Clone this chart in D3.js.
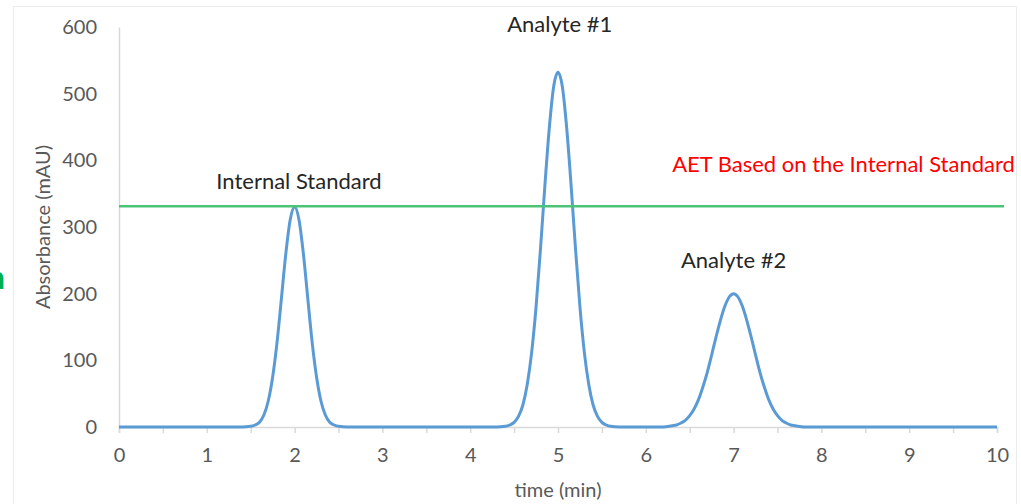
<!DOCTYPE html>
<html>
<head>
<meta charset="utf-8">
<script src="https://cdn.jsdelivr.net/npm/d3@7/dist/d3.min.js"></script>
<style>
  html, body { margin: 0; padding: 0; background: #fff; }
  svg { display: block; font-family: Lato, "Open Sans", sans-serif; }
</style>
</head>
<body>
<svg id="chart" width="1021" height="504"></svg>
<script>
// chromatogram (time in min, absorbance in mAU)
const times = [
  0, 1.4, 1.5, 1.55, 1.6, 1.65, 1.7, 1.75, 1.8, 1.85, 1.9, 1.95,
  2, 2.05, 2.1, 2.15, 2.2, 2.25, 2.3, 2.35, 2.4, 2.45, 2.5, 2.6,
  4.3, 4.4, 4.45, 4.5, 4.55, 4.6, 4.65, 4.7, 4.75, 4.8, 4.85, 4.9, 4.95,
  5, 5.05, 5.1, 5.15, 5.2, 5.25, 5.3, 5.35, 5.4, 5.45, 5.5, 5.55, 5.6, 5.7,
  6.1, 6.2, 6.3, 6.35, 6.4, 6.45, 6.5, 6.55, 6.6, 6.65, 6.7, 6.75, 6.8, 6.85, 6.9, 6.95,
  7, 7.05, 7.1, 7.15, 7.2, 7.25, 7.3, 7.35, 7.4, 7.45, 7.5, 7.55, 7.6, 7.65, 7.7, 7.8, 7.9,
  10
];
const absorbance = [
  0, 0, 1, 3, 7, 18, 39, 75, 127, 193, 260, 311,
  330, 311, 260, 193, 127, 75, 39, 18, 7, 3, 1, 0,
  0, 1, 3, 7, 16, 33, 64, 112, 180, 266, 361, 447, 510,
  532, 510, 447, 361, 266, 180, 112, 64, 33, 16, 7, 3, 1, 0,
  0, 0, 2, 3, 6, 10, 17, 27, 41, 60, 82, 108, 135, 160, 181, 195,
  200, 195, 181, 160, 135, 108, 82, 60, 41, 27, 17, 10, 6, 3, 2, 0, 0,
  0
];

const aetValue = 331;            // green threshold line
const aetEnd = 10.08;            // line runs a little past the last tick

const xTicks = [0, 1, 2, 3, 4, 5, 6, 7, 8, 9, 10];
const xMinorTicks = [0.5, 1.5, 2.5, 3.5, 4.5, 5.5, 6.5, 7.5, 8.5, 9.5];
const yTicks = [0, 100, 200, 300, 400, 500, 600];

const peakLabels = ["Internal Standard", "Analyte #1", "Analyte #2"];
const peakLabelTime = [2.05, 5.02, 7.0];
const peakLabelValue = [357, 592, 238];

const aetLabel = "AET Based on the Internal Standard";
const aetLabelTime = 6.3;
const aetLabelValue = 383;

const svg = d3.select("#chart");

const x = d3.scaleLinear().domain([0, 10]).range([119, 997]);
const y = d3.scaleLinear().domain([0, 600]).range([427, 27]);

// faint chart-area border
svg.append("rect")
  .attr("x", 13.5).attr("y", 6.5)
  .attr("width", 1003).attr("height", 520)
  .attr("fill", "none")
  .attr("stroke", "#ececec")
  .attr("stroke-width", 1);

// clipped green letter at the far left (left over from the slide)
svg.append("text")
  .attr("x", -13).attr("y", 289)
  .attr("font-size", 32)
  .attr("font-weight", "bold")
  .attr("fill", "#00b050")
  .text("n");

// y axis: light line, labels only
const yAxis = svg.append("g")
  .attr("transform", `translate(${x(0)},0)`)
  .call(d3.axisLeft(y).tickValues(yTicks).tickSize(0).tickPadding(22));
yAxis.select(".domain").attr("stroke", "#d9d9d9").attr("stroke-width", 1.5);
yAxis.selectAll("text")
  .attr("font-size", 20)
  .attr("font-family", "Lato, sans-serif")
  .attr("fill", "#595959");

// x axis: major ticks labelled, half ticks unlabelled
const xAxis = svg.append("g")
  .attr("transform", `translate(0,${y(0)})`)
  .call(d3.axisBottom(x).tickValues(xTicks).tickSize(6).tickPadding(15));
xAxis.select(".domain").attr("stroke", "#d9d9d9").attr("stroke-width", 1.5);
xAxis.selectAll(".tick line").attr("stroke", "#d9d9d9").attr("stroke-width", 1.5);
xAxis.selectAll("text")
  .attr("font-size", 20)
  .attr("font-family", "Lato, sans-serif")
  .attr("fill", "#595959");

svg.append("g")
  .attr("transform", `translate(0,${y(0)})`)
  .call(d3.axisBottom(x).tickValues(xMinorTicks).tickSize(6).tickFormat(""))
  .call(g => g.select(".domain").remove())
  .selectAll(".tick line").attr("stroke", "#d9d9d9").attr("stroke-width", 1.5);

// axis titles
svg.append("text")
  .attr("transform", `translate(50,${(y(0) + y(600)) / 2}) rotate(-90)`)
  .attr("text-anchor", "middle")
  .attr("font-size", 20)
  .attr("fill", "#595959")
  .text("Absorbance (mAU)");

svg.append("text")
  .attr("x", (x(0) + x(10)) / 2)
  .attr("y", 497)
  .attr("text-anchor", "middle")
  .attr("font-size", 20)
  .attr("fill", "#595959")
  .text("time (min)");

// the trace
const pts = times.map((t, i) => [t, absorbance[i]]);
const line = d3.line()
  .x(d => x(d[0]))
  .y(d => y(d[1]))
  .curve(d3.curveMonotoneX);

svg.append("path")
  .datum(pts)
  .attr("d", line)
  .attr("fill", "none")
  .attr("stroke", "#5b9bd5")
  .attr("stroke-width", 3)
  .attr("stroke-linejoin", "round");

// AET threshold
svg.append("line")
  .attr("x1", x(0)).attr("x2", x(aetEnd))
  .attr("y1", y(aetValue)).attr("y2", y(aetValue))
  .attr("stroke", "#4cc477")
  .attr("stroke-width", 2.5);

// peak labels
svg.append("g")
  .selectAll("text")
  .data(peakLabels)
  .join("text")
  .attr("x", (d, i) => x(peakLabelTime[i]))
  .attr("y", (d, i) => y(peakLabelValue[i]))
  .attr("text-anchor", "middle")
  .attr("font-size", 22)
  .attr("fill", "#262626")
  .text(d => d);

svg.append("text")
  .attr("x", x(aetLabelTime))
  .attr("y", y(aetLabelValue))
  .attr("font-size", 22)
  .attr("fill", "#ff0000")
  .text(aetLabel);
</script>
</body>
</html>
